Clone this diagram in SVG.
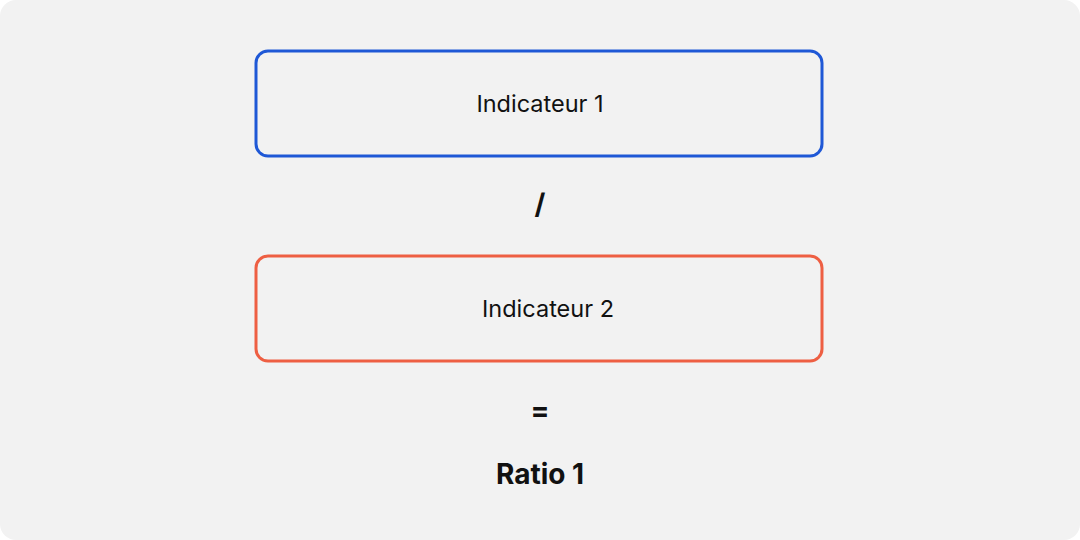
<svg xmlns="http://www.w3.org/2000/svg" width="1080" height="540" viewBox="0 0 1080 540">
<style>
.box{fill:none;stroke-width:3}
.t{font-family:Inter,"Liberation Sans",sans-serif;font-size:23.5px;fill:#111;text-anchor:middle}
.b{font-weight:bold;font-size:28px}
</style>
<rect x="0" y="0" width="1080" height="540" rx="16" fill="#f2f2f2"/>
<g id="ind1"><rect class="box" x="256" y="51" width="566" height="105" rx="12" stroke="#1f58d6"/><text class="t" x="540" y="112">Indicateur 1</text></g>
<g id="div"><text class="t b" x="540" y="214">/</text></g>
<g id="ind2"><rect class="box" x="256" y="256" width="566" height="105" rx="12" stroke="#ee5f43"/><text class="t" x="548" y="317">Indicateur 2</text></g>
<g id="eq"><text class="t b" x="540" y="420">=</text></g>
<g id="ratio"><text class="t b" x="540" y="484">Ratio 1</text></g>
<g id="connectors"/>
</svg>
